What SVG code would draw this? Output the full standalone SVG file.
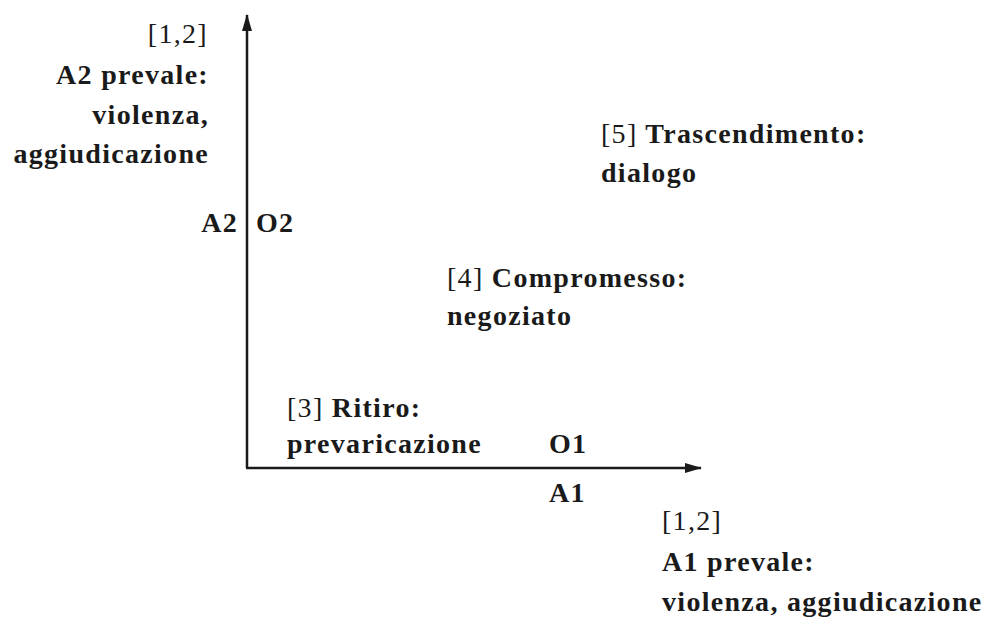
<svg xmlns="http://www.w3.org/2000/svg" width="987" height="619" viewBox="0 0 987 619">
<style>
text{font-family:"Liberation Serif","Times New Roman",serif;font-size:28px;font-weight:bold;fill:#1a1a1a;letter-spacing:1.3px}
.r{font-weight:normal}
.e{text-anchor:end}
.ax{stroke:#1a1a1a;stroke-width:2.5;fill:none}
</style>
<defs>
<marker id="ah" viewBox="0 0 17 10" refX="16" refY="5" markerWidth="17" markerHeight="10" markerUnits="userSpaceOnUse" orient="auto">
<path d="M0,0 L17,5 L0,10 Z" fill="#1a1a1a"/>
</marker>
</defs>
<rect width="987" height="619" fill="#fff"/>
<g id="connectors">
<path class="ax" d="M247,468 V15" marker-end="url(#ah)"/>
<path class="ax" d="M246,468 H701" marker-end="url(#ah)"/>
</g>
<g id="y-axis-label">
<text class="e r" x="208" y="43">[1,2]</text>
<text class="e" x="209" y="84">A2 prevale:</text>
<text class="e" x="209" y="124">violenza,</text>
<text class="e" x="209" y="163">aggiudicazione</text>
</g>
<g id="a2"><text class="e" x="238" y="232">A2</text></g>
<g id="o2"><text x="256" y="232">O2</text></g>
<g id="trascendimento">
<text x="601" y="143"><tspan class="r">[5]</tspan> Trascendimento:</text>
<text x="601" y="182">dialogo</text>
</g>
<g id="compromesso">
<text x="447" y="287"><tspan class="r">[4]</tspan> Compromesso:</text>
<text x="447" y="325">negoziato</text>
</g>
<g id="ritiro">
<text x="287" y="417"><tspan class="r">[3]</tspan> Ritiro:</text>
<text x="287" y="453">prevaricazione</text>
</g>
<g id="o1"><text x="549" y="453">O1</text></g>
<g id="a1"><text x="549" y="502">A1</text></g>
<g id="x-axis-label">
<text class="r" x="662" y="530">[1,2]</text>
<text x="662" y="571">A1 prevale:</text>
<text x="662" y="611">violenza, aggiudicazione</text>
</g>
</svg>
